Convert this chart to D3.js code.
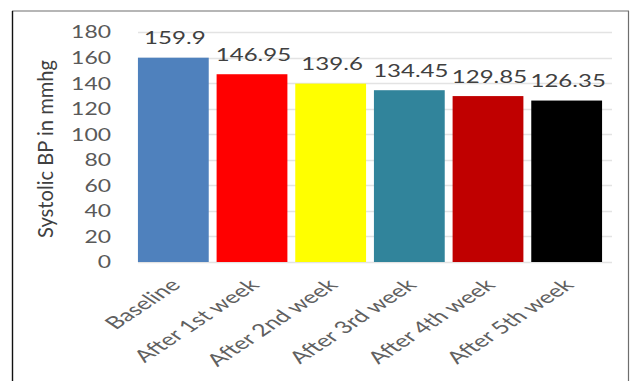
<!DOCTYPE html>
<html>
<head>
<meta charset="utf-8">
<script src="https://cdn.jsdelivr.net/npm/d3@7"></script>
<style>
  html, body { margin: 0; padding: 0; background: #fff; }
  svg { display: block; }
  text { font-family: Lato, "Open Sans", sans-serif; }
</style>
</head>
<body>
<svg id="chart" width="630" height="381"></svg>
<script>
// Systolic blood pressure over the follow-up period
const categories = ["Baseline", "After 1st week", "After 2nd week", "After 3rd week", "After 4th week", "After 5th week"];
const systolic = [159.9, 146.95, 139.6, 134.45, 129.85, 126.35];
const valueLabels = ["159.9", "146.95", "139.6", "134.45", "129.85", "126.35"];
const barColors = ["#4f81bd", "#ff0000", "#ffff00", "#31849b", "#c00000", "#000000"];
const yTicks = [0, 20, 40, 60, 80, 100, 120, 140, 160, 180];
const yTitle = "Systolic BP in mmhg";

const svg = d3.select("#chart");
const W = 630, H = 381;
const SX = 1.5; // horizontal text stretch

// outer frame
svg.append("line").attr("x1", 12).attr("x2", 629).attr("y1", 11).attr("y2", 11)
  .attr("stroke", "#6e6e6e").attr("stroke-width", 1.2);
svg.append("line").attr("x1", 628.5).attr("x2", 628.5).attr("y1", 11).attr("y2", H)
  .attr("stroke", "#6e6e6e").attr("stroke-width", 1.2);
svg.append("line").attr("x1", 12.5).attr("x2", 12.5).attr("y1", 11).attr("y2", H)
  .attr("stroke", "#111").attr("stroke-width", 1.4);

const x = d3.scaleBand().domain(categories).range([134, 606])
  .paddingInner(0.1).paddingOuter(0.05);
const y = d3.scaleLinear().domain([0, 180]).range([262, 32]);

// gridlines
svg.append("g").selectAll("line").data(yTicks).join("line")
  .attr("x1", 138).attr("x2", 612)
  .attr("y1", d => Math.round(y(d)) + 0.5).attr("y2", d => Math.round(y(d)) + 0.5)
  .attr("stroke", "#e3e3e3").attr("stroke-width", 1.6);

// y axis tick labels
const yAxis = d3.axisLeft(y).tickValues(yTicks).tickSize(0).tickPadding(0);
const gy = svg.append("g").attr("transform", "translate(111,0)").call(yAxis);
gy.select(".domain").remove();
gy.selectAll(".tick text")
  .attr("font-family", "Lato, sans-serif")
  .attr("font-size", 16.5)
  .attr("fill", "#595959")
  .attr("dy", "0.36em")
  .attr("textLength", d => String(d).length * 13.3)
  .attr("lengthAdjust", "spacingAndGlyphs");

// bars
svg.append("g").selectAll("rect").data(categories).join("rect")
  .attr("x", d => x(d))
  .attr("width", x.bandwidth())
  .attr("y", (d, i) => y(systolic[i]))
  .attr("height", (d, i) => y(0) - y(systolic[i]))
  .attr("fill", (d, i) => barColors[i]);

// value labels
svg.append("g").selectAll("text").data(categories).join("text")
  .attr("x", d => x(d) + x.bandwidth() / 2 + 1.5)
  .attr("y", (d, i) => y(systolic[i]) - 13.5)
  .attr("text-anchor", "middle")
  .attr("font-size", 18)
  .attr("fill", "#404040")
  .attr("textLength", (d, i) => valueLabels[i].replace(".", "").length * 13.7 + 6.8)
  .attr("lengthAdjust", "spacingAndGlyphs")
  .text((d, i) => valueLabels[i]);

// category labels, rotated
svg.append("g").selectAll("text").data(categories).join("text")
  .attr("transform", d => `translate(${x(d) + x.bandwidth() / 2 + 2},${282}) scale(${SX},1) rotate(-45)`)
  .attr("text-anchor", "end")
  .attr("dy", "0.35em")
  .attr("font-size", 17)
  .attr("fill", "#606060")
  .text(d => d);

// y axis title
svg.append("text")
  .attr("transform", `translate(45,149) scale(${SX},1) rotate(-90)`)
  .attr("text-anchor", "middle")
  .attr("dy", "0.35em")
  .attr("font-size", 14.5)
  .attr("fill", "#404040")
  .attr("textLength", 178)
  .attr("lengthAdjust", "spacingAndGlyphs")
  .text(yTitle);
</script>
</body>
</html>
